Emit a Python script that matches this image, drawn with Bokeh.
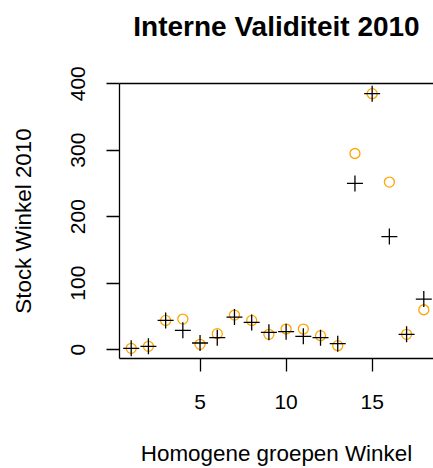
from bokeh.plotting import figure
from bokeh.models import Range1d, FixedTicker, ColumnDataSource, LinearAxis
from bokeh.embed import file_html
from bokeh.resources import INLINE

# Data
groups = list(range(1, 19))
stock_circle = [2, 5, 44, 46, 8, 24, 52, 44, 23, 31, 31, 21, 6, 295, 385, 252, 23, 60]
stock_plus = [2, 5, 44, 29, 10, 18, 49, 41, 26, 27, 20, 18, 9, 250, 385, 170, 23, 76]
x_ticks = [5, 10, 15]
y_ticks = [0, 100, 200, 300, 400]

title_text = "Interne Validiteit 2010"
x_title = "Homogene groepen Winkel"
y_title = "Stock Winkel 2010"

FONT = "Liberation Sans"

# layout (pixels)
W, H = 433, 468
LEFT, TOP, BOTTOM = 119, 83, 109
FRAME_W = W - LEFT          # visible part of the plot box
FULL_W = 316                # plot box in the original continues past the right edge

src = ColumnDataSource(dict(x=groups, yc=stock_circle, yp=stock_plus))

xmin, xmax = min(groups), max(groups)
allv = stock_circle + stock_plus
ymin, ymax = min(allv), max(allv)
xr = xmax - xmin
yr = ymax - ymin
x0, x1 = xmin - 0.04 * xr, xmax + 0.04 * xr
x_end = x0 + (x1 - x0) * FRAME_W / FULL_W

p = figure(width=W, height=H, output_backend="svg", toolbar_location=None,
           x_range=Range1d(x0, x_end),
           y_range=Range1d(ymin - 0.04 * yr, ymax + 0.04 * yr),
           min_border_left=LEFT, min_border_right=0, min_border_top=TOP,
           min_border_bottom=BOTTOM)

p.xgrid.visible = False
p.ygrid.visible = False
p.outline_line_color = None
p.background_fill_color = "white"
p.border_fill_color = "white"

for ax in (p.xaxis[0], p.yaxis[0]):
    ax.axis_line_color = "black"
    ax.axis_line_width = 1.3
    ax.major_tick_line_color = "black"
    ax.major_tick_line_width = 1.3
    ax.major_tick_in = 0
    ax.major_tick_out = 13
    ax.minor_tick_line_color = None
    ax.major_label_text_font = FONT
    ax.major_label_text_font_size = "21px"
    ax.major_label_text_color = "black"
    ax.axis_label_text_font = FONT
    ax.axis_label_text_font_size = "22.4px"
    ax.axis_label_text_font_style = "normal"
    ax.axis_label_text_color = "black"

p.xaxis[0].ticker = FixedTicker(ticks=x_ticks)
p.yaxis[0].ticker = FixedTicker(ticks=y_ticks)
p.xaxis[0].axis_label = x_title
p.yaxis[0].axis_label = y_title
p.yaxis[0].major_label_orientation = "vertical"
p.xaxis[0].major_label_standoff = 23
p.yaxis[0].major_label_standoff = 21
p.xaxis[0].axis_label_standoff = 29
p.yaxis[0].axis_label_standoff = 33

# top edge of the plot box, carrying the main title
top_axis = LinearAxis(ticker=FixedTicker(ticks=[]), axis_line_color="black",
                      axis_line_width=1.3, major_tick_line_color=None,
                      minor_tick_line_color=None, major_label_text_font_size="0px",
                      axis_label=title_text, axis_label_text_font=FONT,
                      axis_label_text_font_size="28px",
                      axis_label_text_font_style="bold",
                      axis_label_text_color="black",
                      axis_label_standoff=42)
p.add_layout(top_axis, "above")

p.scatter("x", "yc", source=src, marker="circle", size=10, fill_color=None,
          line_color="#FFA500", line_width=1.3)
p.scatter("x", "yp", source=src, marker="cross", size=16,
          line_color="black", line_width=1.3)

open("out.html", "w").write(file_html(p, INLINE))
